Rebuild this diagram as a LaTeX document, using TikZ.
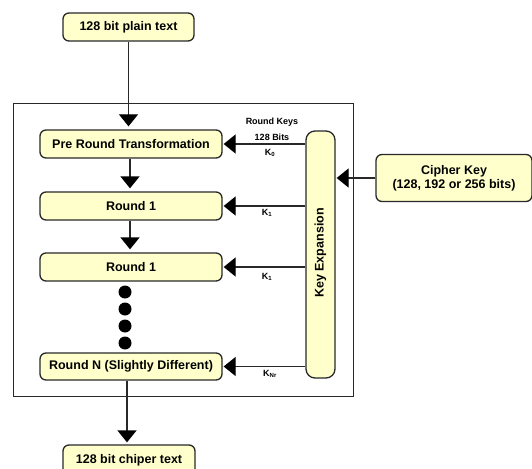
\documentclass[tikz,border=0pt]{standalone}
\usepackage{fontspec}
\setmainfont{Liberation Sans}
\usetikzlibrary{arrows.meta}
\definecolor{boxfill}{RGB}{255,255,204}
\definecolor{boxline}{RGB}{40,40,40}
\begin{document}
\begin{tikzpicture}[x=1pt,y=-1pt,
  box/.style={draw=boxline, line width=1.3pt, fill=boxfill, rounded corners=6pt,
    font=\fontsize{12.5}{14}\selectfont\bfseries, inner sep=0pt, align=center},
  conn/.style={draw=boxline, line width=1.3pt, -{Triangle[length=12pt,width=19pt,color=black]}},
  small/.style={font=\fontsize{9}{10}\selectfont\bfseries, inner sep=0pt},
  dotc/.style={circle, fill=black, minimum size=13pt, inner sep=0pt}]
\useasboundingbox (0,0) rectangle (532,468);
\clip (0,0) rectangle (532,468);
\node[draw=boxline, line width=1pt, minimum width=340pt, minimum height=292pt, inner sep=0pt] (frame) at (183,250) {};

\node[box, minimum width=131pt, minimum height=28pt] (plain) at (128.5,27) {128 bit plain text};
\node[box, minimum width=182pt, minimum height=28pt] (pre) at (131,144) {Pre Round Transformation};
\node[box, minimum width=182pt, minimum height=28pt] (r1) at (131,206) {Round 1};
\node[box, minimum width=182pt, minimum height=28pt] (r2) at (131,267) {Round 1};
\node[box, minimum width=182pt, minimum height=27pt] (rn) at (131,366.5) {Round N (Slightly Different)};
\node[box, minimum width=132pt, minimum height=32pt] (cipherout) at (129,461) {};
\node[font=\fontsize{12.5}{14}\selectfont\bfseries, inner sep=0pt] (cipherouttext) at (129,460) {128 bit chiper text};

\node[box, rounded corners=9pt, minimum width=29pt, minimum height=247pt] (keyexp) at (320.5,254.5) {};
\node[font=\fontsize{12.5}{14}\selectfont\bfseries, inner sep=0pt, rotate=90] (keyexptext) at (320.5,253) {Key Expansion};
\node[box, minimum width=156pt, minimum height=47pt] (cipherkey) at (454,178) {Cipher Key\\(128, 192 or 256 bits)};

\node[dotc] (d1) at (125,292) {};
\node[dotc] (d2) at (125,309) {};
\node[dotc] (d3) at (125,326) {};
\node[dotc] (d4) at (125,343) {};

\draw[conn, shorten >=3pt] (plain.south) -- (plain.south |- pre.north);
\draw[conn, shorten >=3pt] ([xshift=-1pt]pre.south) -- ([xshift=-1pt]pre.south |- r1.north);
\draw[conn, shorten >=3pt] ([xshift=-1pt]r1.south) -- ([xshift=-1pt]r1.south |- r2.north);
\draw[conn, shorten >=2pt] ([xshift=-4pt]rn.south) -- ([xshift=-4pt]rn.south |- cipherout.north);

\draw[conn, shorten >=1pt] (keyexp.west |- pre.east) -- (pre.east);
\draw[conn, shorten >=1pt] (keyexp.west |- r1.east) -- (r1.east);
\draw[conn, shorten >=1pt] (keyexp.west |- r2.east) -- (r2.east);
\draw[conn, shorten >=1pt] (keyexp.west |- rn.east) -- (rn.east);
\draw[conn, shorten >=1pt] (cipherkey.west) -- (cipherkey.west -| keyexp.east);

\node[small] (rk) at (272,122) {Round Keys};
\node[small] (rb) at (272,137) {128 Bits};
\node[small] (k0) at (270,153) {K\textsubscript{0}};
\node[small] (k1a) at (267,213) {K\textsubscript{1}};
\node[small] (k1b) at (267,277) {K\textsubscript{1}};
\node[small] (knr) at (270,374) {K\textsubscript{Nr}};
\end{tikzpicture}
\end{document}
